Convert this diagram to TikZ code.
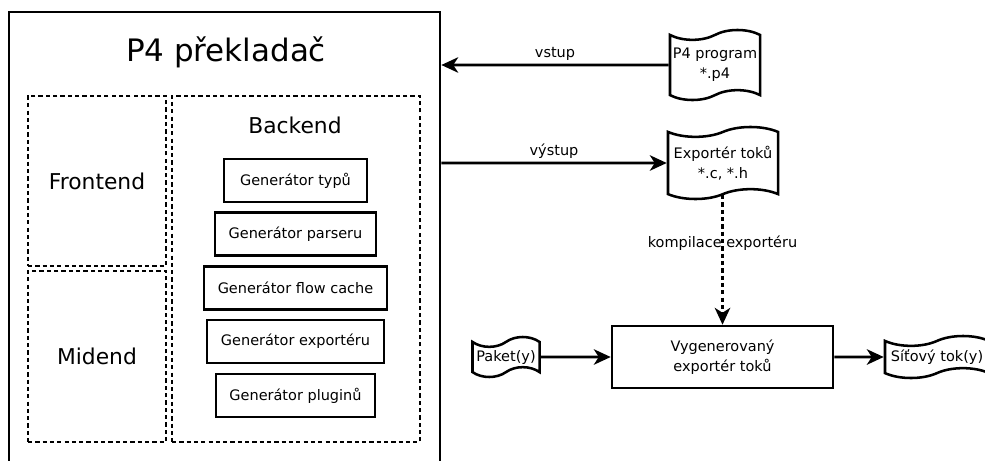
\documentclass[tikz,border=0pt]{standalone}
\usepackage{fontspec}
\setmainfont{DejaVu Sans}
\usetikzlibrary{shapes.symbols, arrows.meta, positioning}
\tikzset{
  p4box/.style={rectangle, draw=black, line width=1.8pt, inner sep=0pt,
                align=center, font=\fontsize{10.3}{14}\selectfont},
  p4dashbox/.style={p4box, line width=1.6pt, dash pattern=on 3pt off 2.2pt,
                    font=\fontsize{15.5}{18}\selectfont},
  p4gen/.style={p4box, minimum height=1.075cm},
  p4tape/.style={tape, draw=black, line width=1.8pt, inner sep=0pt,
                 tape bend height=7pt, align=center,
                 font=\fontsize{10.3}{14}\selectfont},
  p4arrow/.style={-{Stealth[length=12pt, width=11pt, inset=3.5pt]}, line width=1.8pt},
  p4label/.style={font=\fontsize{10.3}{12}\selectfont, inner sep=2pt},
}

\begin{document}
\begin{tikzpicture}[x=0.025cm, y=-0.025cm]
  \useasboundingbox (0,0) rectangle (985,460);
  \clip (0,0) rectangle (985,460);

  % Překladač
  \node[p4box, minimum width=10.775cm, minimum height=12cm] (prekladac) at (224.5, 252) {};
  \node[font=\fontsize{22}{26}\selectfont] (titul) at (226, 52) {P4 překladač};

  \node[p4dashbox, minimum width=3.45cm, minimum height=4.25cm] (frontend) at (97, 181) {Frontend};
  \node[p4dashbox, minimum width=3.45cm, minimum height=4.275cm] (midend) at (97, 356.5) {Midend};
  \node[p4dashbox, minimum width=6.2cm, minimum height=8.65cm] (backend) at (296, 269) {};
  \node[font=\fontsize{15.5}{18}\selectfont] (backendlbl) at (295, 125) {Backend};

  % Generátory
  \node[p4gen, minimum width=3.575cm] (gentypy) at (295.5, 180.5) {Generátor typů};
  \node[p4gen, minimum width=4.025cm] (genparser) at (295.5, 234) {Generátor parseru};
  \node[p4gen, minimum width=4.575cm] (gencache) at (295.5, 288) {Generátor flow cache};
  \node[p4gen, minimum width=4.425cm] (genexport) at (295.5, 341.5) {Generátor exportéru};
  \node[p4gen, minimum width=3.975cm] (genplugin) at (295.5, 395.5) {Generátor pluginů};

  % Soubory a exportér
  \node[p4tape, minimum width=2.25cm, minimum height=1.75cm] (p4prog) at (715, 65)
    {P4 program\\*.p4};
  \node[p4tape, minimum width=2.75cm, minimum height=1.8cm] (exporter) at (723, 163)
    {Exportér toků\\*.c, *.h};
  \node[p4box, minimum width=5.525cm, minimum height=1.55cm] (vygen) at (722.5, 357)
    {Vygenerovaný\\exportér toků};
  \node[p4tape, minimum width=1.675cm, minimum height=1.0cm] (paket) at (506, 357)
    {Paket(y)};
  \node[p4tape, minimum width=2.6cm, minimum height=1.05cm] (sitovy) at (937, 357)
    {Síťový tok(y)};

  % Spojení
  \draw[p4arrow] (p4prog) -- (p4prog -| prekladac.east)
    node[p4label, midway, above] {vstup};
  \draw[p4arrow] (prekladac.east |- exporter) -- (exporter)
    node[p4label, midway, above] {výstup};
  \draw[p4arrow, dash pattern=on 3pt off 2.2pt] (exporter.south -| vygen.north) -- (vygen.north)
    node[p4label, pos=0.37] {kompilace exportéru};
  \draw[p4arrow] (paket) -- (vygen);
  \draw[p4arrow] (vygen) -- (sitovy);
\end{tikzpicture}
\end{document}
